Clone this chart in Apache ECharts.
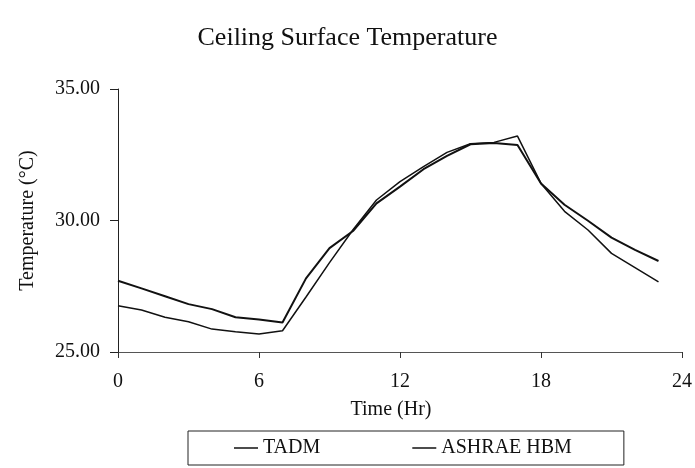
<!DOCTYPE html>
<html>
<head>
<meta charset="utf-8">
<script src="https://cdn.jsdelivr.net/npm/echarts@6/dist/echarts.min.js"></script>
<style>
  html, body { margin: 0; padding: 0; background: #fff; }
  #chart { width: 695px; height: 468px; }
</style>
</head>
<body>
<div id="chart"></div>
<script>
// Hourly ceiling surface temperatures (°C), hours 0–23
const hours = [0, 1, 2, 3, 4, 5, 6, 7, 8, 9, 10, 11, 12, 13, 14, 15, 16, 17, 18, 19, 20, 21, 22, 23];
const tadm = [27.71, 27.42, 27.12, 26.82, 26.63, 26.32, 26.24, 26.12, 27.80, 28.95, 29.60, 30.65,
              31.29, 31.95, 32.46, 32.90, 32.95, 32.87, 31.41, 30.60, 29.99, 29.35, 28.88, 28.46];
const ashrae = [26.76, 26.60, 26.32, 26.15, 25.87, 25.77, 25.68, 25.81, 27.09, 28.40, 29.65, 30.78,
                31.48, 32.05, 32.59, 32.92, 32.97, 33.21, 31.41, 30.35, 29.64, 28.75, 28.21, 27.67];
const seriesNames = ['TADM', 'ASHRAE HBM'];

const serif = '"Liberation Serif", "DejaVu Serif", serif';
const pairs = vals => hours.map((h, i) => [h, vals[i]]);

const chart = echarts.init(document.getElementById('chart'), null, { renderer: 'canvas' });
chart.setOption({
  animation: false,
  backgroundColor: '#fff',
  title: {
    text: 'Ceiling Surface Temperature',
    left: 'center',
    top: 20,
    textStyle: { fontFamily: serif, fontSize: 26, fontWeight: 'normal', color: '#111' }
  },
  grid: { left: 118, right: 11, top: 89, bottom: 116 },
  legend: {
    data: seriesNames,
    left: 188,
    top: 431,
    padding: [7, 52, 7, 46],
    icon: 'rect',
    itemWidth: 24,
    itemHeight: 1.5,
    itemGap: 92,
    borderColor: '#222',
    borderWidth: 1,
    itemStyle: { color: '#111' },
    textStyle: { fontFamily: serif, fontSize: 20, color: '#111' }
  },
  xAxis: {
    type: 'value',
    min: 0,
    max: 24,
    interval: 6,
    name: 'Time (Hr)',
    nameLocation: 'middle',
    nameGap: 48,
    nameTextStyle: { fontFamily: serif, fontSize: 20, color: '#111', padding: [0, 18, 0, 0] },
    axisLine: { lineStyle: { color: '#555', width: 1 } },
    axisTick: { length: 6, lineStyle: { color: '#333' } },
    axisLabel: { margin: 20, fontFamily: serif, fontSize: 20, color: '#111' },
    splitLine: { show: false }
  },
  yAxis: {
    type: 'value',
    min: 25,
    max: 35,
    interval: 5,
    name: 'Temperature (°C)',
    nameLocation: 'middle',
    nameGap: 80,
    nameTextStyle: { fontFamily: serif, fontSize: 20, color: '#111' },
    axisLine: { show: true, lineStyle: { color: '#222', width: 1 } },
    axisTick: { show: true, length: 8, lineStyle: { color: '#222' } },
    axisLabel: {
      margin: 18,
      fontFamily: serif,
      fontSize: 20,
      color: '#111',
      formatter: v => v.toFixed(2)
    },
    splitLine: { show: false }
  },
  series: [
    {
      name: seriesNames[0],
      type: 'line',
      data: pairs(tadm),
      symbol: 'none',
      lineStyle: { color: '#111', width: 2 },
      itemStyle: { color: '#111' }
    },
    {
      name: seriesNames[1],
      type: 'line',
      data: pairs(ashrae),
      symbol: 'none',
      lineStyle: { color: '#111', width: 1.5 },
      itemStyle: { color: '#111' }
    }
  ]
});
</script>
</body>
</html>
